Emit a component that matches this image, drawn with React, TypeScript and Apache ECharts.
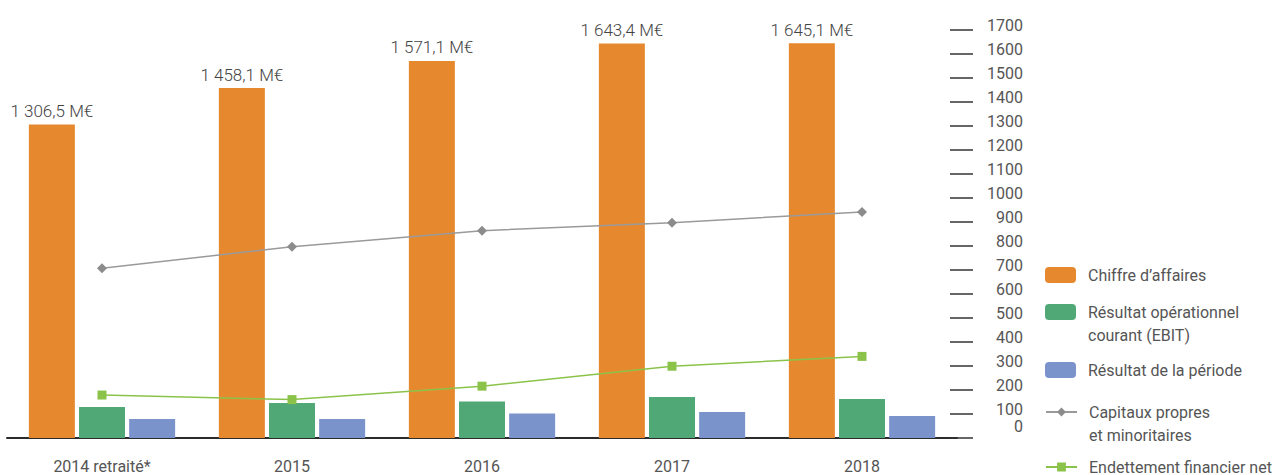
import React, { useEffect, useRef } from "react";
import * as echarts from "echarts";

const categories = ["2014 retraité*", "2015", "2016", "2017", "2018"];
const chiffreAffaires = [1306.5, 1458.1, 1571.1, 1643.4, 1645.1];
const ebit = [129, 146, 152, 171, 162];
const resultatPeriode = [79, 79, 102, 108, 92];
const capitauxPropres = [707, 797, 864, 897, 942];
const endettement = [179, 160, 216, 299, 340];

const seriesNames = [
  "Chiffre d’affaires",
  "Résultat opérationnel\ncourant (EBIT)",
  "Résultat de la période",
  "Capitaux propres\net minoritaires",
  "Endettement financier net",
];

const FONT = "Roboto";

function fmtMEur(v: number): string {
  const [intPart, dec] = v.toFixed(1).split(".");
  const grouped = intPart.replace(/\B(?=(\d{3})+(?!\d))/g, " ");
  return `${grouped},${dec} M€`;
}

// a leading empty line is added for two-line labels so that the first line
// sits level with the icon
function legendAt(name: string, symbolCenter: number, itemHeight: number, twoLines: boolean) {
  const lines = twoLines ? 3 : 1;
  const boxH = lines * 23;
  const top = symbolCenter - Math.max(itemHeight / 2, boxH / 2);
  return {
    show: true,
    orient: "vertical",
    left: 1045,
    top,
    padding: 0,
    itemWidth: 31,
    itemHeight,
    selectedMode: false,
    data: [name],
    formatter: (n: string) => (twoLines ? "\n" + n : n),
    textStyle: {
      fontFamily: FONT,
      fontSize: 16,
      color: "#555",
      lineHeight: 23,
      padding: [0, 0, 0, 7],
    },
  };
}

export default function App() {
  const ref = useRef<HTMLDivElement>(null);
  useEffect(() => {
    if (!ref.current) return;
    const chart = echarts.init(ref.current, null, { renderer: "svg" });
    chart.setOption({
      animation: false,
      backgroundColor: "#fff",
      grid: { left: 7, right: 330, top: 30, bottom: 37, containLabel: false },
      legend: [
        legendAt(seriesNames[0], 275, 16, false),
        legendAt(seriesNames[1], 312, 16, true),
        legendAt(seriesNames[2], 370, 16, false),
        legendAt(seriesNames[3], 412, 11, true),
        legendAt(seriesNames[4], 467, 11, false),
      ],
      xAxis: {
        type: "category",
        data: categories,
        axisLine: { show: true, lineStyle: { color: "#2b2b2b", width: 2 } },
        axisTick: { show: false },
        axisLabel: { fontFamily: FONT, fontSize: 16, color: "#555", margin: 20 },
      },
      yAxis: {
        type: "value",
        position: "right",
        offset: 16,
        min: 0,
        max: 1700,
        interval: 100,
        axisLine: { show: false },
        axisTick: { show: true, inside: true, length: 23, lineStyle: { color: "#333", width: 1.5 } },
        splitLine: { show: false },
        axisLabel: {
          margin: 50,
          align: "right",
          fontFamily: FONT,
          fontSize: 16,
          color: "#555",
          padding: [0, 0, 10, 0],
          formatter: (v: number) => (v === 0 ? "{z|0}" : String(v)),
          rich: { z: { fontFamily: FONT, fontSize: 16, color: "#555", padding: [0, 0, 14, 0] } },
        },
      },
      series: [
        {
          name: seriesNames[0],
          type: "bar",
          data: chiffreAffaires,
          barWidth: 46,
          barGap: "9%",
          itemStyle: { color: "#E6892E" },
          label: {
            show: true,
            position: "top",
            distance: 5,
            fontFamily: FONT,
            fontSize: 17,
            fontWeight: 300,
            color: "#444",
            formatter: (p: any) => fmtMEur(p.value),
          },
        },
        {
          name: seriesNames[1],
          type: "bar",
          data: ebit,
          barWidth: 46,
          barGap: "9%",
          itemStyle: { color: "#4FA876" },
        },
        {
          name: seriesNames[2],
          type: "bar",
          data: resultatPeriode,
          barWidth: 46,
          barGap: "9%",
          itemStyle: { color: "#7B93CB" },
        },
        {
          name: seriesNames[3],
          type: "line",
          data: capitauxPropres,
          symbol: "diamond",
          symbolSize: 10,
          itemStyle: { color: "#8C8C8C" },
          lineStyle: { color: "#9A9A9A", width: 1.5 },
          z: 5,
        },
        {
          name: seriesNames[4],
          type: "line",
          data: endettement,
          symbol: "rect",
          symbolSize: 9,
          itemStyle: { color: "#8BC34A" },
          lineStyle: { color: "#8BC34A", width: 1.5 },
          z: 5,
        },
      ],
    });
    return () => chart.dispose();
  }, []);
  return (
    <div
      ref={ref}
      style={{ position: "fixed", left: 0, top: 0, width: 1287, height: 475, background: "#fff" }}
    />
  );
}
